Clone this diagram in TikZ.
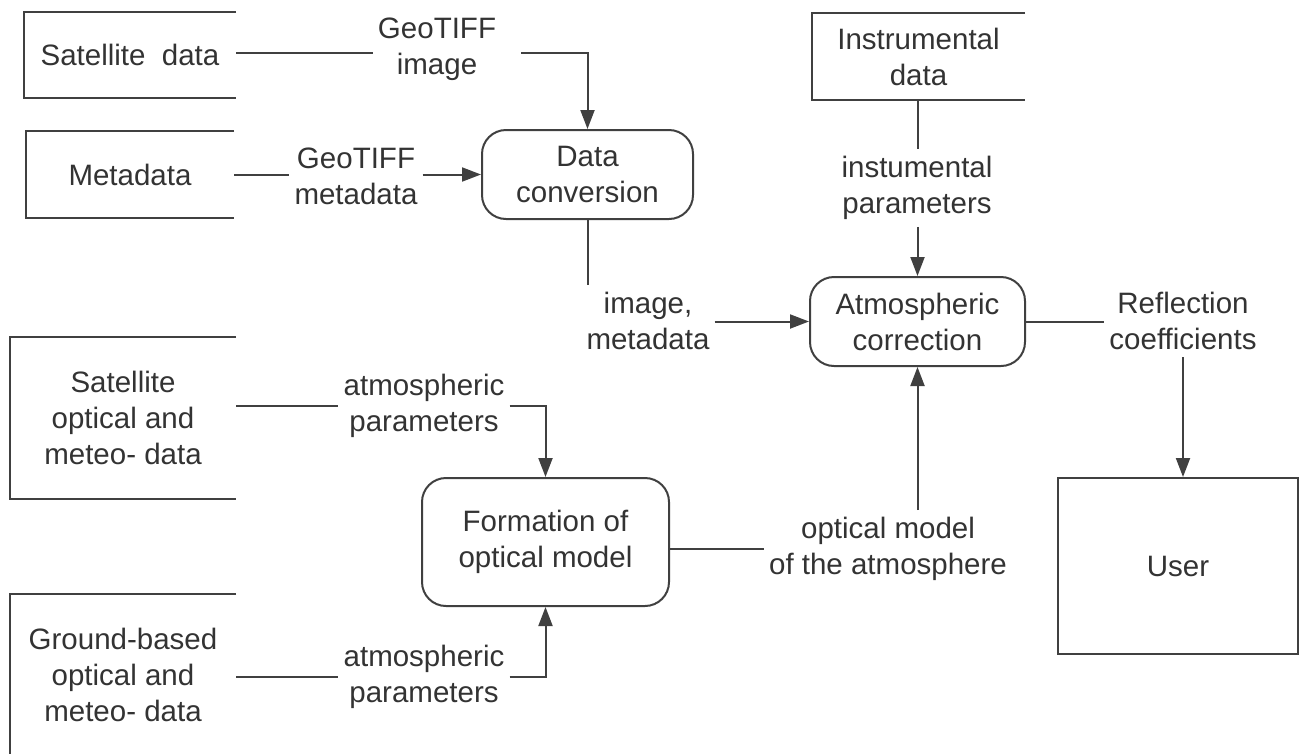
\documentclass[tikz,border=0pt]{standalone}
\usepackage{fontspec}
\setmainfont{Liberation Sans}
\usetikzlibrary{arrows.meta, positioning}

\begin{document}
\begin{tikzpicture}[x=1pt,y=-1pt,
  every node/.style={font=\fontsize{29.5}{36}\selectfont, text=black!80},
  store/.style={align=center, inner sep=0pt},
  proc/.style={draw=black!75, line width=2pt, rounded corners=24pt, align=center, inner sep=0pt},
  lbl/.style={align=center, inner xsep=5pt, inner ysep=7pt},
  flow/.style={draw=black!75, line width=2pt},
  arr/.style={flow, -{Triangle[length=19pt,width=14pt]}}]
  \useasboundingbox (0,0) rectangle (1301,753);
  % data stores (open on the right)
  \node[store, minimum width=212pt, minimum height=86pt] (satdata) at (130,55) {Satellite\ \ data};
  \node[store, minimum width=208pt, minimum height=87pt] (metadata) at (130,174.5) {Metadata};
  \node[store, minimum width=213pt, minimum height=87pt] (instr) at (918.5,56.5) {Instrumental\\data};
  \node[store, minimum width=226pt, minimum height=162pt] (satopt) at (123,418) {Satellite\\optical and\\meteo- data};
  \node[store, minimum width=226pt, minimum height=162pt] (ground) at (123,675) {Ground-based\\optical and\\meteo- data};
  \foreach \s in {satdata,metadata,instr,satopt}
    \draw[flow] (\s.north east) -- (\s.north west) -- (\s.south west) -- (\s.south east);
  \draw[flow] (ground.north east) -- (ground.north west) -- (ground.south west);
  % processes
  \node[proc, minimum width=211pt, minimum height=89pt] (conv) at (587.5,174.5) {Data\\conversion};
  \node[proc, minimum width=215pt, minimum height=89pt] (atmo) at (917.5,321.5) {Atmospheric\\correction};
  \node[proc, minimum width=247pt, minimum height=128pt] (form) at (545.5,542) {Formation of\\optical model};
  % external entity
  \node[draw=black!75, line width=2pt, minimum width=240pt, minimum height=176pt] (user) at (1178,566) {User};
  % flow labels
  \node[lbl] (lbl_img) at (437,49) {GeoTIFF\\image};
  \node[lbl] (lbl_meta) at (356,176) {GeoTIFF\\metadata};
  \node[lbl] (lbl_instr) at (917,188) {instumental\\parameters};
  \node[lbl] (lbl_conv) at (648,321) {image,\\metadata};
  \node[lbl] (lbl_refl) at (1183,321) {Reflection\\coefficients};
  \node[lbl] (lbl_atm1) at (424,406) {atmospheric\\parameters};
  \node[lbl] (lbl_atm2) at (424,677) {atmospheric\\parameters};
  \node[lbl] (lbl_opt) at (888,549) {optical model\\of the atmosphere};
  % flows
  \draw[flow] (satdata.east |- 0,53) -- (lbl_img.west |- 0,53);
  \draw[arr] ([xshift=20pt]lbl_img.east |- 0,53) -| (conv.north);
  \draw[flow] (metadata.east) -- (lbl_meta.west |- metadata.east);
  \draw[arr] (lbl_meta.east |- conv.west) -- (conv.west);
  \draw[flow] (conv.south) -- (conv.south |- lbl_conv.north);
  \draw[arr] (lbl_conv.east |- atmo.west) -- (atmo.west);
  \draw[flow] (instr.south -| atmo.north) -- (atmo.north |- lbl_instr.north);
  \draw[arr] (atmo.north |- lbl_instr.south) -- (atmo.north);
  \draw[flow] (atmo.east) -- (lbl_refl.west |- atmo.east);
  \draw[arr] (lbl_refl.south) -- (lbl_refl.south |- user.north);
  \draw[flow] (satopt.east |- lbl_atm1) -- (lbl_atm1.west);
  \draw[arr] (lbl_atm1.east) -| (form.north);
  \draw[flow] (ground.east |- lbl_atm2) -- (lbl_atm2.west);
  \draw[arr] (lbl_atm2.east) -| (form.south);
  \draw[flow] (form.east |- lbl_opt) -- (lbl_opt.west);
  \draw[arr] (lbl_opt.north -| atmo.south) -- (atmo.south);
\end{tikzpicture}
\end{document}
